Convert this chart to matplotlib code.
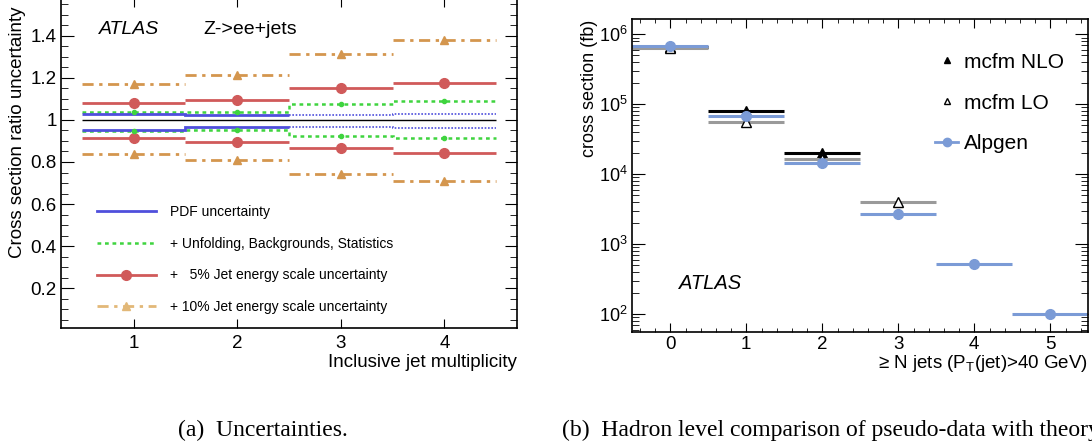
import numpy as np
import matplotlib
matplotlib.use("Agg")
import matplotlib.pyplot as plt
from matplotlib.lines import Line2D
from matplotlib.ticker import FixedLocator, MultipleLocator, NullFormatter, FuncFormatter, LogLocator

plt.rcParams['font.family'] = ['Liberation Sans', 'DejaVu Sans']
plt.rcParams['mathtext.fontset'] = 'custom'
plt.rcParams['mathtext.rm'] = 'Liberation Sans'
plt.rcParams['mathtext.it'] = 'Liberation Sans:italic'

# (a) relative uncertainties vs inclusive jet multiplicity
njet = np.array([1, 2, 3, 4])
pdf_up = [1.030, 1.024, 1.025, 1.028]
pdf_dn = [0.952, 0.967, 0.967, 0.963]
unf_up = [1.039, 1.037, 1.076, 1.092]
unf_dn = [0.949, 0.952, 0.924, 0.913]
jes5_up = [1.082, 1.096, 1.151, 1.176]
jes5_dn = [0.913, 0.897, 0.865, 0.842]
jes10_up = [1.170, 1.214, 1.314, 1.379]
jes10_dn = [0.840, 0.809, 0.743, 0.709]
labels_a = ["PDF uncertainty",
            "+ Unfolding, Backgrounds, Statistics",
            "+   5% Jet energy scale uncertainty",
            "+ 10% Jet energy scale uncertainty"]

# (b) cross section (fb) vs >= N jets
nj = np.arange(6)
alpgen = [6.8e5, 6.8e4, 1.43e4, 2.74e3, 514, 100]
mcfm_nlo = [6.6e5, 8.1e4, 2.0e4]
mcfm_lo = [6.45e5, 5.6e4, 1.67e4, 4.0e3]
labels_b = ["mcfm NLO", "mcfm LO", "Alpgen"]

c_pdf = "#4f4fdc"
c_unf = "#3fd43f"
c_jes5 = "#d05a5a"
c_jes10 = "#d4964e"
c_alp = "#7b9bd6"

W, H = 1092, 448
fig = plt.figure(figsize=(W/100, H/100), dpi=100)

def box(l, t, r, b):
    return [l/W, 1 - b/H, (r - l)/W, (b - t)/H]

ax1 = fig.add_axes(box(61, -2, 517, 328.3))
ax2 = fig.add_axes(box(632.3, 19.3, 1088.3, 331.7))

# ---- panel (a)
lo, hi = njet - 0.5, njet + 0.5
ax1.hlines(1.0, 0.5, 4.5, color="k", lw=1.0, zorder=2)
dashdot = (0, (4, 2, 1.2, 2))
ax1.hlines(jes10_up, lo, hi, color=c_jes10, lw=2, linestyles=[dashdot])
ax1.hlines(jes10_dn, lo, hi, color=c_jes10, lw=2, linestyles=[dashdot])
ax1.plot(njet, jes10_up, "^", color=c_jes10, ms=6)
ax1.plot(njet, jes10_dn, "^", color=c_jes10, ms=6)
ax1.hlines(jes5_up, lo, hi, color=c_jes5, lw=2)
ax1.hlines(jes5_dn, lo, hi, color=c_jes5, lw=2)
ax1.plot(njet, jes5_up, "o", color=c_jes5, ms=7)
ax1.plot(njet, jes5_dn, "o", color=c_jes5, ms=7)
edges = np.append(lo, hi[-1])
ax1.stairs(unf_up, edges, baseline=None, color=c_unf, lw=1.8, linestyle=(0, (1.5, 1.5)))
ax1.stairs(unf_dn, edges, baseline=None, color=c_unf, lw=1.8, linestyle=(0, (1.5, 1.5)))
ax1.plot(njet, unf_up, "o", color=c_unf, ms=3)
ax1.plot(njet, unf_dn, "o", color=c_unf, ms=3)
ax1.stairs(pdf_up[:2], edges[:3], baseline=None, color=c_pdf, lw=2)
ax1.stairs(pdf_dn[:2], edges[:3], baseline=None, color=c_pdf, lw=2)
ax1.stairs(pdf_up[2:], edges[2:], baseline=None, color=c_pdf, lw=1.2, linestyle=(0, (1, 1)))
ax1.stairs(pdf_dn[2:], edges[2:], baseline=None, color=c_pdf, lw=1.2, linestyle=(0, (1, 1)))

ax1.set_xlim(0.3, 4.7)
ax1.set_ylim(0.01, 1.579)
ax1.xaxis.set_major_locator(FixedLocator(njet))
ax1.yaxis.set_major_locator(MultipleLocator(0.2))
ax1.yaxis.set_minor_locator(MultipleLocator(0.05))
ax1.yaxis.set_major_formatter(FuncFormatter(lambda v, p: f"{v:g}"))
ax1.tick_params(which="both", direction="in", top=True, right=True, labelsize=13.5)
ax1.tick_params(axis="x", which="major", length=6.5, pad=5)
ax1.tick_params(axis="y", which="major", length=9, pad=3)
ax1.tick_params(axis="y", which="minor", length=5)
for s in ax1.spines.values():
    s.set_linewidth(1.2)

ax1.text(0.666, 1.427, "ATLAS", fontsize=14, style="italic", va="center")
ax1.text(1.672, 1.427, "Z->ee+jets", fontsize=14, va="center")

hand_a = [Line2D([], [], color=c_pdf, lw=2),
          Line2D([], [], color=c_unf, lw=1.8, ls=(0, (1.5, 1.5))),
          Line2D([], [], color=c_jes5, lw=2, marker="o", ms=7),
          Line2D([], [], color="#e2b878", lw=2, ls=dashdot, marker="^", ms=6)]
ax1.legend(hand_a, labels_a, loc="upper left", bbox_to_anchor=(0.078, 0.373),
           frameon=False, fontsize=10, handlelength=4.3, handletextpad=1.0,
           labelspacing=1.27, borderpad=0, borderaxespad=0)

fig.text(517/W, 1 - 362/H, "Inclusive jet multiplicity", fontsize=13.5,
         ha="right", va="center")
fig.text(17.5/W, 1 - 258/H, "Cross section ratio uncertainty", fontsize=13.5,
         rotation=90, ha="center", va="bottom")

# ---- panel (b)
ax2.hlines(mcfm_nlo, nj[:3] - 0.5, nj[:3] + 0.5, color="k", lw=2.2)
ax2.plot(nj[:3], mcfm_nlo, "^", color="k", ms=6.5)
ax2.hlines(mcfm_lo, nj[:4] - 0.5, nj[:4] + 0.5, color="#9a9a9a", lw=2.2)
ax2.plot(nj[:4], mcfm_lo, "^", mfc="white", mec="k", mew=1, ms=6.5)
ax2.hlines(alpgen, nj - 0.5, nj + 0.5, color=c_alp, lw=2.2)
ax2.plot(nj, alpgen, "o", color=c_alp, ms=7)

ax2.set_yscale("log")
ax2.set_xlim(-0.5, 5.5)
ax2.set_ylim(56, 1.64e6)
ax2.xaxis.set_major_locator(MultipleLocator(1))
ax2.xaxis.set_minor_locator(MultipleLocator(0.2))
ax2.yaxis.set_major_locator(LogLocator(base=10, numticks=10))
ax2.yaxis.set_minor_locator(LogLocator(base=10, subs=np.arange(2, 10), numticks=20))
ax2.yaxis.set_minor_formatter(NullFormatter())
ax2.tick_params(which="both", direction="in", top=True, right=True, labelsize=13.5)
ax2.tick_params(axis="y", labelsize=13)
ax2.tick_params(axis="x", which="major", length=6.5, pad=3)
ax2.tick_params(axis="x", which="minor", length=3)
ax2.tick_params(axis="y", which="major", length=9.5, pad=3.5)
ax2.tick_params(axis="y", which="minor", length=5)
for s in ax2.spines.values():
    s.set_linewidth(1.2)

ax2.text(0.114, 275, "ATLAS", fontsize=14.5, style="italic", va="center")

hand_b = [Line2D([], [], ls="none", marker="^", color="k", ms=5),
          Line2D([], [], ls="none", marker="^", mfc="white", mec="k", ms=5),
          Line2D([], [], color=c_alp, lw=2, marker="o", ms=6)]
ax2.legend(hand_b, labels_b, loc="upper left", bbox_to_anchor=(0.664, 0.893),
           frameon=False, fontsize=15, handlelength=1.1, handletextpad=0.3,
           labelspacing=1.05, borderpad=0, borderaxespad=0)

fig.text(1088.3/W, 1 - 363/H, "≥ N jets (P$_\\mathrm{T}$(jet)>40 GeV)", fontsize=13.5,
         ha="right", va="center")
fig.text(589/W, 1 - 20/H, "cross section (fb)", fontsize=13,
         rotation=90, ha="center", va="top")

# captions
fig.text(178/W, 1 - 430/H, "(a)  Uncertainties.", fontsize=17,
         family="Liberation Serif", va="center")
fig.text(562/W, 1 - 430/H, "(b)  Hadron level comparison of pseudo-data with theory.",
         fontsize=17, family="Liberation Serif", va="center")

fig.savefig("out.png", dpi=100)
